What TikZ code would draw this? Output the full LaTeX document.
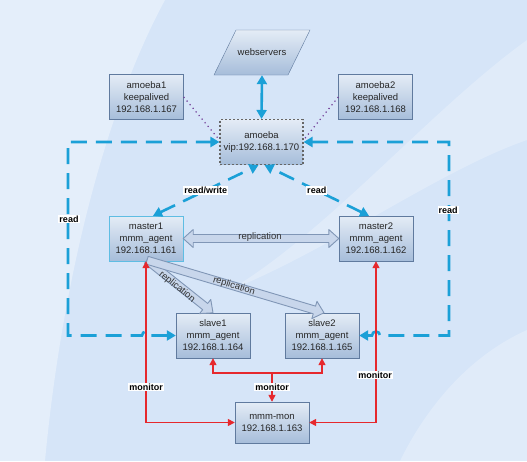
\documentclass[tikz,border=0pt]{standalone}
\usepackage{fontspec}
\setmainfont{Liberation Sans}
\usetikzlibrary{arrows.meta,calc}
\definecolor{bgblue}{RGB}{214,229,248}
\definecolor{boxtop}{RGB}{228,236,246}
\definecolor{boxbot}{RGB}{166,189,218}
\definecolor{boxline}{RGB}{96,122,158}
\definecolor{readblue}{RGB}{27,160,215}
\definecolor{monred}{RGB}{230,40,45}
\definecolor{replline}{RGB}{128,150,182}
\definecolor{replfill}{RGB}{200,214,235}
\definecolor{dotpurple}{RGB}{112,60,150}
\tikzset{
  server/.style={draw=boxline, top color=boxtop, bottom color=boxbot, minimum width=74pt,
    minimum height=45pt, align=center, font=\fontsize{9.5}{12}\selectfont, text=black!85, inner sep=1pt},
  readline/.style={readblue, line width=2.6pt, dash pattern=on 16pt off 9pt},
  monline/.style={monred, line width=1.5pt},
  repl/.style={draw=replline, fill=replfill, line width=0.9pt, line join=round},
  repltext/.style={font=\fontsize{9.5}{10}\selectfont, text=black!80, inner sep=0pt},
  tag/.style={fill=white, font=\bfseries\fontsize{9}{10}\selectfont, inner sep=1pt, text=black},
  cyantip/.tip={Triangle[length=9pt,width=10pt]},
  redtip/.tip={Triangle[length=7pt,width=7pt]}
}
% fat hollow arrow from #1 to #2
\newcommand{\replarrow}[2]{%
  \path ($(#2)!10pt!(#1)$) coordinate (hb);
  \filldraw[repl] ($(#1)!4pt!90:(#2)$) -- ($(hb)!4pt!-90:(#1)$) -- ($(hb)!9pt!-90:(#1)$) -- (#2)
    -- ($(hb)!9pt!90:(#1)$) -- ($(hb)!4pt!90:(#1)$) -- ($(#1)!4pt!-90:(#2)$) -- cycle;
}
% fat hollow arrow with heads at both ends
\newcommand{\replarrows}[2]{%
  \path ($(#2)!10pt!(#1)$) coordinate (hb) ($(#1)!10pt!(#2)$) coordinate (ha);
  \filldraw[repl] (#1) -- ($(ha)!9pt!90:(#2)$) -- ($(ha)!4pt!90:(#2)$) -- ($(hb)!4pt!-90:(#1)$)
    -- ($(hb)!9pt!-90:(#1)$) -- (#2) -- ($(hb)!9pt!90:(#1)$) -- ($(hb)!4pt!90:(#1)$)
    -- ($(ha)!4pt!-90:(#2)$) -- ($(ha)!9pt!-90:(#2)$) -- cycle;
}
\begin{document}
\begin{tikzpicture}[x=1pt,y=-1pt]
  % background
  \fill[bgblue] (0,0) rectangle (527,461);
  \fill[white, opacity=0.35] (0,0) -- (165,0) .. controls (100,120) and (60,300) .. (45,461) -- (0,461) -- cycle;
  \fill[white, opacity=0.25] (527,40) .. controls (430,110) and (330,230) .. (230,290) .. controls (330,250) and (440,170) .. (527,140) -- cycle;
  \fill[white, opacity=0.25] (527,330) .. controls (460,360) and (420,420) .. (400,461) -- (527,461) -- cycle;
  \useasboundingbox (0,0) rectangle (527,461);

  % servers
  \shade[draw=boxline, top color=boxtop, bottom color=boxbot] (214,75) -- (236,30) -- (310,30) -- (288,75) -- cycle;
  \node[font=\fontsize{9.5}{12}\selectfont, text=black!85, minimum width=74pt, minimum height=45pt] (web) at (262,52.5) {webservers};
  \node[server] (amoeba1) at (146.5,97) {amoeba1\\keepalived\\192.168.1.167};
  \node[server] (amoeba2) at (375.5,97) {amoeba2\\keepalived\\192.168.1.168};
  \node[server, minimum width=83pt, draw=black!60, line width=1.1pt, dash pattern=on 2pt off 2pt]
    (amoeba) at (261.5,142) {amoeba\\vip:192.168.1.170};
  \node[server, draw=readblue!70] (master1) at (146,238.5) {master1\\mmm\_agent\\192.168.1.161};
  \node[server] (master2) at (376,238.5) {master2\\mmm\_agent\\192.168.1.162};
  \node[server] (slave1) at (213,335.5) {slave1\\mmm\_agent\\192.168.1.164};
  \node[server] (slave2) at (322,335.5) {slave2\\mmm\_agent\\192.168.1.165};
  \node[server, minimum height=41pt] (mon) at (272,422.5) {mmm-mon\\192.168.1.163};

  % keepalived links
  \draw[dotpurple, line width=1.2pt, dash pattern=on 1.2pt off 3.5pt] (amoeba1.east) -- ([yshift=2pt]amoeba.west);
  \draw[dotpurple, line width=1.2pt, dash pattern=on 1.2pt off 3.5pt] (amoeba2.west) -- ([yshift=2pt]amoeba.east);

  % reads
  \draw[readblue, line width=2.6pt, cyantip-cyantip] (web.south) -- (amoeba.north);
  \draw[readline, cyantip-cyantip] ([xshift=7pt]master1.north) -- ([xshift=-3pt]amoeba.south)
    node[tag, pos=0.5] (rw) {read/write};
  \draw[readline, cyantip-cyantip] ([xshift=-7pt]master2.north) -- ([xshift=3pt]amoeba.south)
    node[tag, pos=0.5] (rd) {read};
  \draw[readline, cyantip-cyantip] (slave1.west) -- (150,335.5) arc[start angle=0, end angle=180, radius=4pt]
    -- (68,335.5) -- (68,142) -- (amoeba.west);
  \draw[readline, cyantip-cyantip] (slave2.east) -- (372,335.5) arc[start angle=180, end angle=0, radius=4pt]
    -- (449,335.5) -- (449,142) -- (amoeba.east);
  \node[tag] (readl) at (69,219) {read};
  \node[tag] (readr) at (448,210) {read};

  % replication
  \coordinate (m1out) at ([xshift=1pt,yshift=1pt]master1.south);
  \replarrows{master1.east}{master2.west}
  \replarrow{m1out}{slave1.north}
  \replarrow{m1out}{[xshift=2pt]slave2.north}
  \node[repltext] (repm) at (260,237) {replication};
  \node[repltext, rotate=-39] (rep1) at (177,287) {replication};
  \node[repltext, rotate=-17] (rep2) at (234,286) {replication};

  % monitor
  \coordinate (junc) at (272,373);
  \draw[monline, redtip-redtip] (master1.south) |- (mon.west);
  \draw[monline, redtip-redtip] (master2.south) |- (mon.east);
  \draw[monline, redtip-] (mon.north) -- (junc);
  \draw[monline, -redtip] (junc) -| (slave1.south);
  \draw[monline, -redtip] (junc) -| (slave2.south);
  \node[tag] (monl) at (146,387) {monitor};
  \node[tag] (monr) at (375,375) {monitor};
  \node[tag] (monc) at (272,387) {monitor};
\end{tikzpicture}
\end{document}
